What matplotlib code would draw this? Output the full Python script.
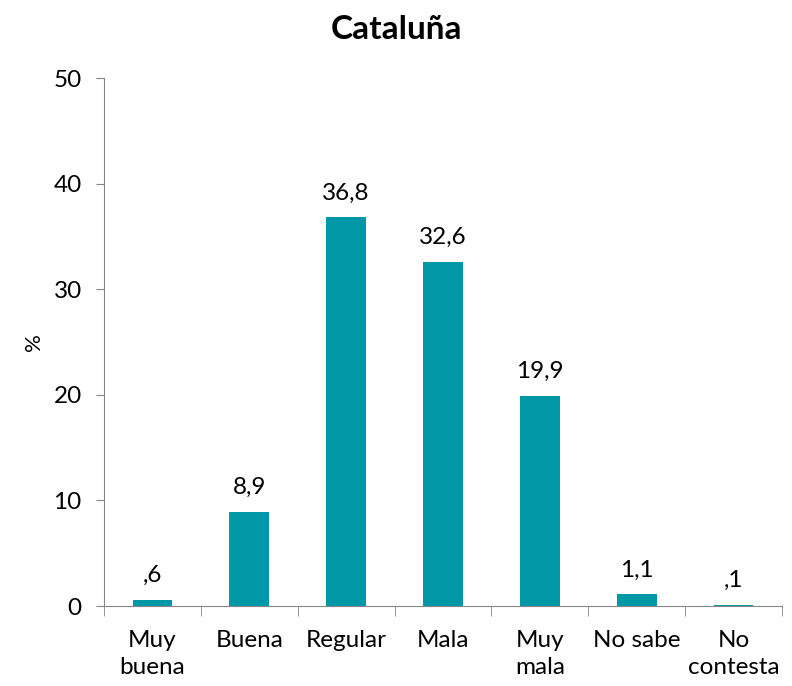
import matplotlib
matplotlib.use("Agg")
import matplotlib.pyplot as plt

categorias = ["Muy\nbuena", "Buena", "Regular", "Mala", "Muy\nmala", "No sabe", "No\ncontesta"]
valores = [0.6, 8.9, 36.8, 32.6, 19.9, 1.1, 0.1]
etiquetas = [",6", "8,9", "36,8", "32,6", "19,9", "1,1", ",1"]

plt.rcParams['font.family'] = ['Lato', 'DejaVu Sans']

fig = plt.figure(figsize=(7.92, 6.86), dpi=100)
ax = fig.add_axes([0.1313, 0.1166, 0.856, 0.7696])

x = list(range(len(categorias)))
barras = ax.bar(x, valores, width=0.41, color='#0098A6')
for b, t in zip(barras, etiquetas):
    ax.text(b.get_x() + b.get_width() / 2, b.get_height() + 1.3, t,
            ha='center', va='bottom', fontsize=17.5)

ax.set_xlim(-0.5, len(categorias) - 0.5)
ax.set_ylim(0, 50)
ax.set_yticks([0, 10, 20, 30, 40, 50])
ax.tick_params(axis='y', labelsize=17.5, length=6, color='#868686', pad=10)
ax.set_xticks(x)
ax.set_xticklabels(categorias, fontsize=17.5, linespacing=1.35)
ax.tick_params(axis='x', length=0, pad=17)
ax.set_xticks([i - 0.5 for i in range(len(categorias) + 1)], minor=True)
ax.tick_params(axis='x', which='minor', length=7, color='#868686', direction='out')

for s in ['top', 'right']:
    ax.spines[s].set_visible(False)
for s in ['left', 'bottom']:
    ax.spines[s].set_color('#868686')

ax.set_ylabel("%", fontsize=16, labelpad=7)
fig.text(0.5, 0.957, "Cataluña", fontsize=24, fontweight='bold', ha='center', va='center')

fig.savefig("out.png", dpi=100)
